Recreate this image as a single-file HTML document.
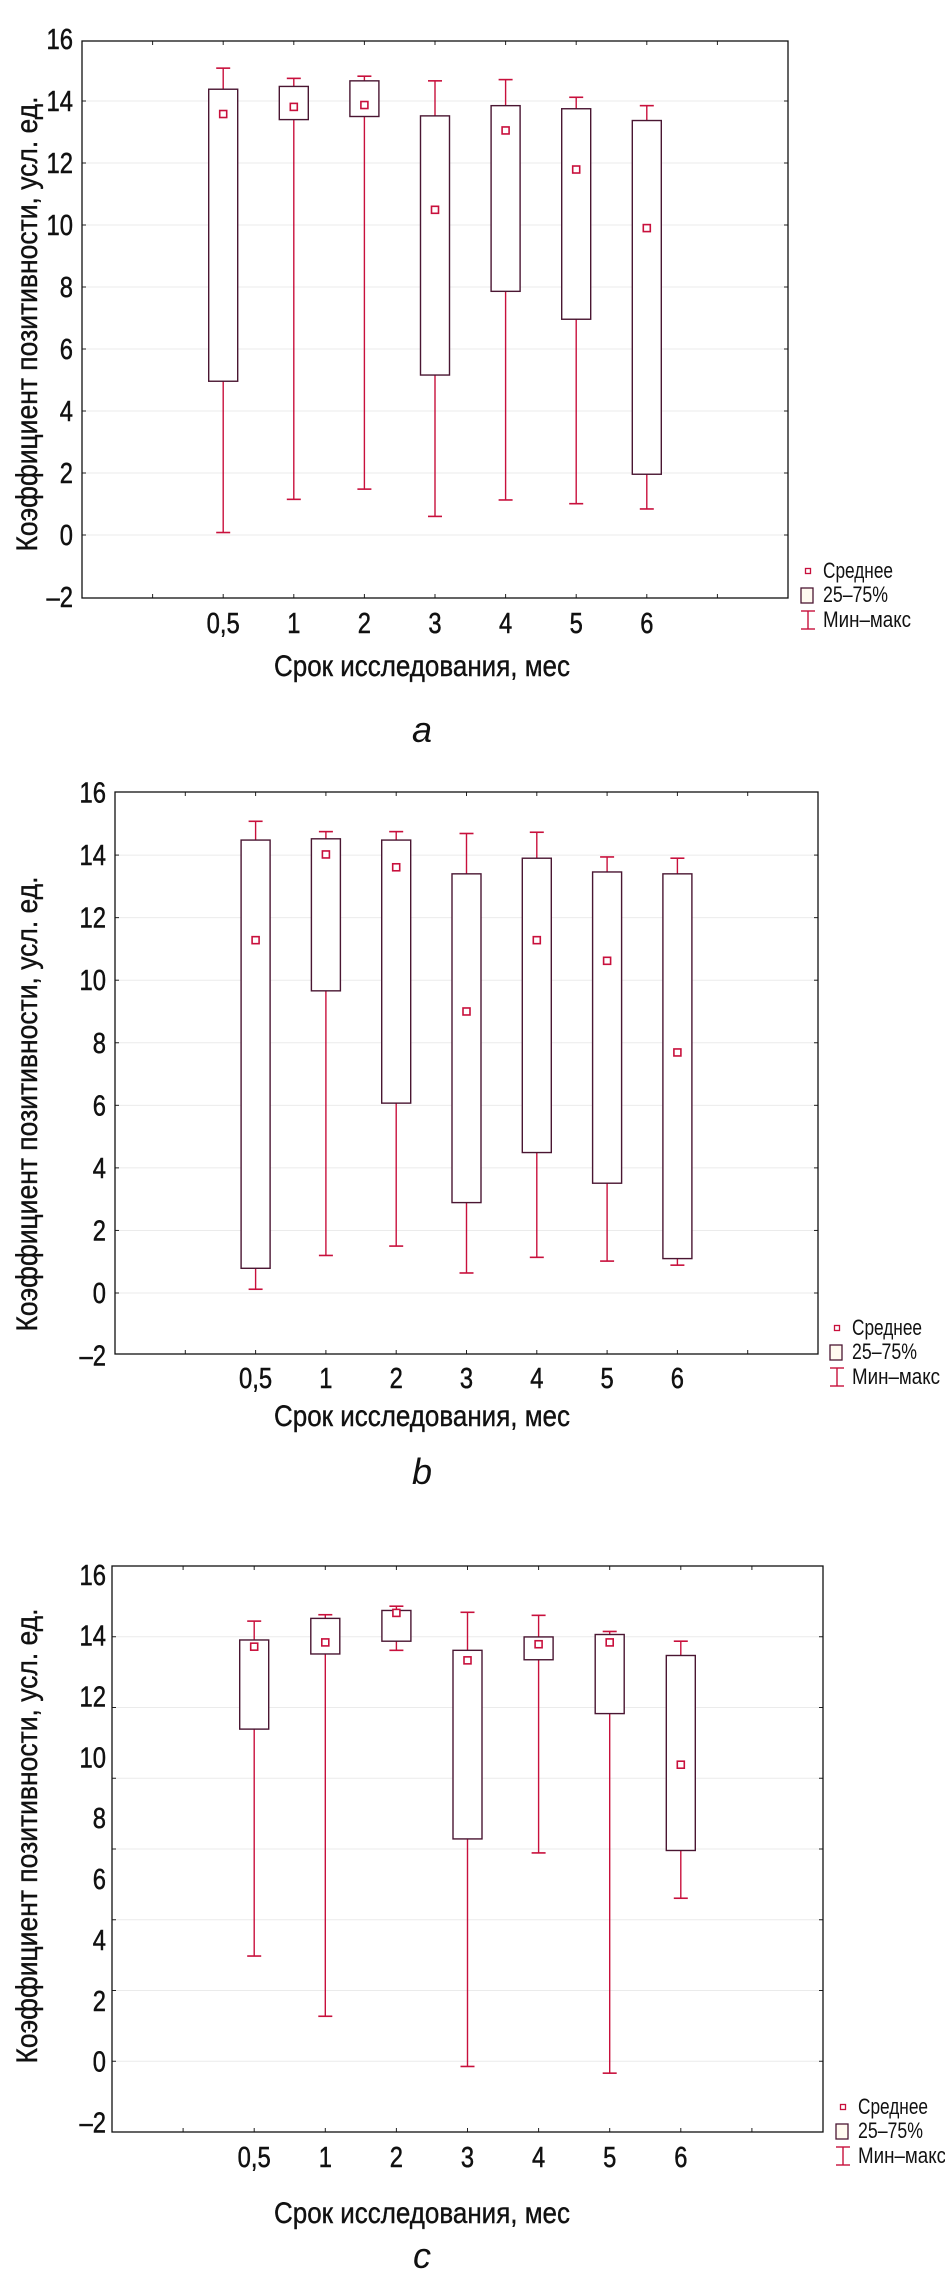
<!DOCTYPE html>
<html><head><meta charset="utf-8">
<style>
html,body{margin:0;padding:0;background:#fff;}
svg{display:block;}
text{font-family:"Liberation Sans",sans-serif;fill:#111;}
</style></head>
<body>
<svg id="root" width="945" height="2281" viewBox="0 0 945 2281" xmlns="http://www.w3.org/2000/svg"></svg>
<script>
// shared category / tick data
const categories = ["0,5","1","2","3","4","5","6"];
const yTicks = [-2,0,2,4,6,8,10,12,14,16];

// chart a
const maxA  = [15.06,14.73,14.80,14.65,14.69,14.12,13.85];
const q3A   = [14.38,14.47,14.65,13.52,13.85,13.75,13.37];
const meanA = [13.58,13.81,13.87,10.49,13.05,11.79,9.90];
const q1A   = [4.96,13.40,13.50,5.16,7.86,6.96,1.96];
const minA  = [0.08,1.15,1.48,0.60,1.13,1.01,0.84];

// chart b
const maxB  = [15.08,14.75,14.75,14.69,14.73,13.94,13.90];
const q3B   = [14.48,14.52,14.48,13.40,13.90,13.46,13.40];
const meanB = [11.28,14.02,13.61,9.00,11.28,10.62,7.69];
const q1B   = [0.79,9.66,6.07,2.89,4.49,3.51,1.10];
const minB  = [0.12,1.20,1.50,0.64,1.14,1.02,0.89];

// chart c
const maxC  = [14.48,14.69,14.97,14.77,14.67,14.14,13.82];
const q3C   = [13.86,14.57,14.83,13.52,13.96,14.04,13.35];
const meanC = [13.64,13.78,14.75,13.19,13.72,13.78,9.76];
const q1C   = [10.93,13.40,13.82,7.32,13.21,11.44,6.94];
const minC  = [3.47,1.49,13.52,-0.16,6.86,-0.38,5.37];

const NS="http://www.w3.org/2000/svg";
const root=document.getElementById('root');
const WH="#c8103c", BOX="#4a1632";

function mk(tag,attrs,parent){
  const e=document.createElementNS(NS,tag);
  for(const k in attrs) e.setAttribute(k,attrs[k]);
  (parent||root).appendChild(e);
  return e;
}
function txt(parent,x,y,s,size,anchor,squeeze,extra){
  const t=mk('text',Object.assign({x:x,y:y,'font-size':size,'text-anchor':anchor},extra||{}),parent);
  t.textContent=s;
  if(squeeze){
    const w=t.getComputedTextLength();
    t.setAttribute('textLength',(w*squeeze).toFixed(1));
    t.setAttribute('lengthAdjust','spacingAndGlyphs');
  }
  return t;
}

function drawChart(cfg){
  const g=mk('g',{});
  
  
  const L=cfg.left,R=cfg.right,T=cfg.top,B=cfg.bottom;
  const step=(R-L)/10;
  const xPos=i=>L+step*(i+2);
  const yPos=v=>cfg.y0-v*cfg.unit;

  const gl=mk('g',{},g);
  
  
  if(cfg.equalGrid){
    for(let k=1;k<8;k++){
      const y=T+(B-T)*k/8;
      mk('line',{x1:L,x2:R,y1:y,y2:y,stroke:'#ebebeb','stroke-width':1},gl);
      mk('line',{x1:L,x2:L+4,y1:y,y2:y,stroke:'#222','stroke-width':1},gl);
      mk('line',{x1:R-4,x2:R,y1:y,y2:y,stroke:'#222','stroke-width':1},gl);
    }
  } else {
    yTicks.forEach(v=>{
      const y=yPos(v);
      if(y>T+2&&y<B-2){
        mk('line',{x1:L,x2:R,y1:y,y2:y,stroke:'#ebebeb','stroke-width':1},gl);
        mk('line',{x1:L,x2:L+4,y1:y,y2:y,stroke:'#222','stroke-width':1},gl);
        mk('line',{x1:R-4,x2:R,y1:y,y2:y,stroke:'#222','stroke-width':1},gl);
      }
    });
  }
  for(let k=1;k<10;k++){
    const x=L+step*k;
    mk('line',{x1:x,x2:x,y1:T,y2:T+4,stroke:'#222','stroke-width':1},g);
    mk('line',{x1:x,x2:x,y1:B-4,y2:B,stroke:'#222','stroke-width':1},g);
  }
  const fr=mk('rect',{x:L,y:T,width:R-L,height:B-T,fill:'none',stroke:'#111','stroke-width':1.3},g);
  
  

  yTicks.forEach(v=>{
    const s=v<0?'\u2013'+Math.abs(v):String(v);
    const t=txt(g,cfg.labelRight,yPos(v)+10,s,29,'end',0.82,{stroke:'#111','stroke-width':0.5});
    
    
  });
  categories.forEach((c,i)=>{
    const t=txt(g,xPos(i),cfg.xLabelY,c,29,'middle',0.82,{stroke:'#111','stroke-width':0.5});
    
    
  });

  const bw=29, cw=14;
  categories.forEach((c,i)=>{
    const bg=mk('g',{},g);
    
    
    const x=xPos(i);
    const yMax=yPos(cfg.max[i]),yMin=yPos(cfg.min[i]),yQ3=yPos(cfg.q3[i]),yQ1=yPos(cfg.q1[i]),yM=yPos(cfg.mean[i]);
    mk('line',{x1:x,x2:x,y1:yMax,y2:yQ3,stroke:WH,'stroke-width':1.4},bg);
    mk('line',{x1:x,x2:x,y1:yQ1,y2:yMin,stroke:WH,'stroke-width':1.4},bg);
    mk('line',{x1:x-cw/2,x2:x+cw/2,y1:yMax,y2:yMax,stroke:WH,'stroke-width':1.6},bg);
    mk('line',{x1:x-cw/2,x2:x+cw/2,y1:yMin,y2:yMin,stroke:WH,'stroke-width':1.6},bg);
    mk('rect',{x:x-bw/2,y:yQ3,width:bw,height:yQ1-yQ3,fill:'#fff',stroke:BOX,'stroke-width':1.4},bg);
    mk('rect',{x:x-3.5,y:yM-3.5,width:7,height:7,fill:'#fff',stroke:WH,'stroke-width':1.6},bg);
  });

  const xt=txt(g,cfg.xTitleX,cfg.xTitleY,'Срок исследования, мес',30,'middle',null,{textLength:296,lengthAdjust:'spacingAndGlyphs',stroke:'#111','stroke-width':0.4});
  
  
  const yt=txt(g,0,0,'Коэффициент позитивности, усл. ед.',30,'middle',null,{textLength:455,lengthAdjust:'spacingAndGlyphs',stroke:'#111','stroke-width':0.4,transform:'translate(37,'+cfg.yTitleY+') rotate(-90)'});
  
  

  const lg=mk('g',{},g);
  
  
  const lx=cfg.legX, ly=cfg.legY;
  mk('rect',{x:lx-2.5,y:ly-2.5,width:5,height:5,fill:'#fff',stroke:WH,'stroke-width':1.3},lg);
  mk('rect',{x:lx-7,y:ly+17,width:12,height:15,fill:'#fffaf0',stroke:BOX,'stroke-width':1.3},lg);
  mk('line',{x1:lx-7,x2:lx+7,y1:ly+40,y2:ly+40,stroke:WH,'stroke-width':1.4},lg);
  mk('line',{x1:lx-7,x2:lx+7,y1:ly+58,y2:ly+58,stroke:WH,'stroke-width':1.4},lg);
  mk('line',{x1:lx,x2:lx,y1:ly+40,y2:ly+58,stroke:WH,'stroke-width':1.4},lg);
  const l1=txt(lg,lx+15,ly+7,'Среднее',22,'start',null,{textLength:70,lengthAdjust:'spacingAndGlyphs'});
  
  
  const l2=txt(lg,lx+15,ly+31,'25–75%',22,'start',null,{textLength:65,lengthAdjust:'spacingAndGlyphs'});
  
  
  const l3=txt(lg,lx+15,ly+56,'Мин–макс',22,'start',null,{textLength:88,lengthAdjust:'spacingAndGlyphs'});
  
  

  const cp=txt(g,cfg.xTitleX,cfg.capY,cfg.cap,36,'middle',null,{'font-style':'italic'});
  
  
}

drawChart({name:'chart-a',left:82,right:788,top:41,bottom:598,y0:535,unit:31.0,
  labelRight:73,xLabelY:633,xTitleX:422,xTitleY:676,yTitleY:324,capY:742,cap:'a',
  legX:808,legY:571,equalGrid:false,
  max:maxA,q3:q3A,mean:meanA,q1:q1A,min:minA});
drawChart({name:'chart-b',left:115,right:818,top:792,bottom:1354,y0:1293,unit:31.28,
  labelRight:106,xLabelY:1388,xTitleX:422,xTitleY:1426,yTitleY:1104,capY:1484,cap:'b',
  legX:837,legY:1328,equalGrid:false,
  max:maxB,q3:q3B,mean:meanB,q1:q1B,min:minB});
drawChart({name:'chart-c',left:112,right:823,top:1566,bottom:2132,y0:2061.6,unit:30.42,
  labelRight:106,xLabelY:2167,xTitleX:422,xTitleY:2223,yTitleY:1836,capY:2268,cap:'c',
  legX:843,legY:2107,equalGrid:true,
  max:maxC,q3:q3C,mean:meanC,q1:q1C,min:minC});
</script>
</body></html>
